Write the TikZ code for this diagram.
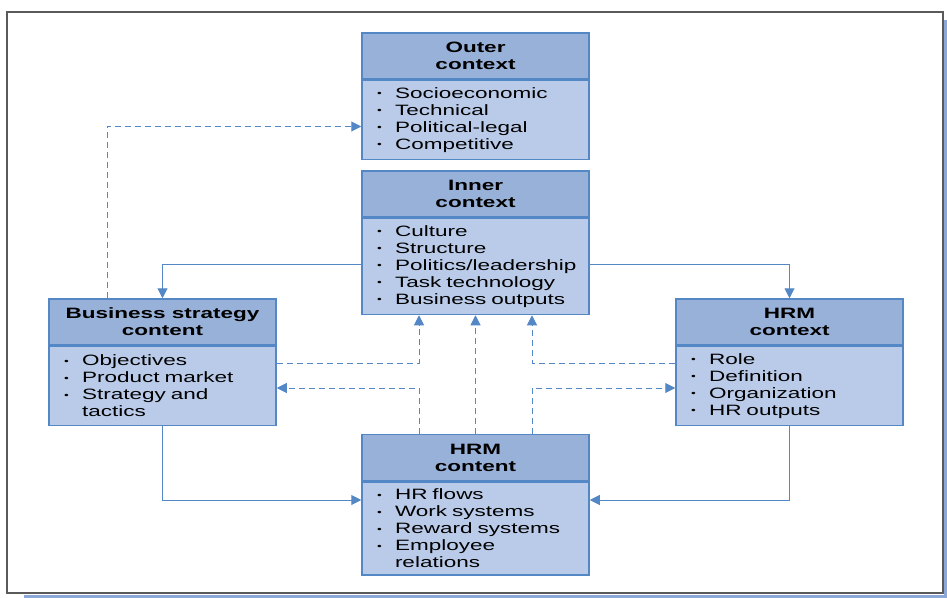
\documentclass[tikz,border=0pt]{standalone}
\usepackage{fontspec}
\setmainfont{Liberation Sans}[FakeStretch=1.5]
\usetikzlibrary{positioning, arrows.meta}
\definecolor{headblue}{RGB}{152,177,217}
\definecolor{bodyblue}{RGB}{186,203,233}
\definecolor{lineblue}{RGB}{84,135,197}
\definecolor{framegray}{RGB}{90,90,90}
\definecolor{shadowblue}{RGB}{140,168,216}
\newcommand{\bul}[1]{\makebox[22pt][l]{\hspace*{4pt}\raisebox{1.5pt}{\scalebox{0.6}{\textbullet}}}#1}
\newcommand{\cnt}{\hspace*{22pt}}
\tikzset{
	head/.style={draw=lineblue, line width=1.5pt, fill=headblue, rectangle, minimum width=227pt, minimum height=46pt, inner sep=0pt, align=center, font=\fontsize{15}{17}\selectfont\bfseries},
	body/.style={draw=lineblue, line width=1.5pt, fill=bodyblue, rectangle, minimum width=227pt, text width=205pt, inner xsep=11pt, inner ysep=0pt, align=left, font=\fontsize{15}{17}\selectfont},
	link/.style={draw=lineblue, line width=1pt, -{Triangle[length=10pt, width=10pt]}},
	dlink/.style={link, dash pattern=on 6pt off 4pt},
}

\begin{document}
\begin{tikzpicture}[x=1pt, y=-1pt]
	\useasboundingbox (0,0) rectangle (947,597);
	% frame
	\draw[shadowblue, line width=3pt] (945.5,20) -- (945.5,596) -- (24,596);
	\draw[framegray, line width=1.5pt, fill=white] (7,12) rectangle (943,593);

	\node[head] (outerhead) at (475.5, 56) {Outer\\context};
	\node[body, minimum height=79pt, below=0pt of outerhead] (outerbody) {\bul{Socioeconomic}\\\bul{Technical}\\\bul{Political-legal}\\\bul{Competitive}};

	\node[head] (innerhead) at (475.5, 194) {Inner\\context};
	\node[body, minimum height=96pt, below=0pt of innerhead] (innerbody) {\bul{Culture}\\\bul{Structure}\\\bul{Politics/leadership}\\\bul{Task technology}\\\bul{Business outputs}};

	\node[head] (bushead) at (162.5, 322) {Business strategy\\content};
	\node[body, minimum height=79pt, below=0pt of bushead] (busbody) {\bul{Objectives}\\\bul{Product market}\\\bul{Strategy and}\\\cnt tactics};

	\node[head] (ctxhead) at (789.5, 322) {HRM\\context};
	\node[body, minimum height=79pt, below=0pt of ctxhead] (ctxbody) {\bul{Role}\\\bul{Definition}\\\bul{Organization}\\\bul{HR outputs}};

	\node[head] (hrmhead) at (475.5, 457.5) {HRM\\content};
	\node[body, minimum height=93pt, below=0pt of hrmhead] (hrmbody) {\bul{HR flows}\\\bul{Work systems}\\\bul{Reward systems}\\\bul{Employee}\\\cnt relations};

	% connectors
	\draw[dlink] ([xshift=-55.5pt]bushead.north) |- ([yshift=-6.5pt]outerbody.west);
	\draw[link] ([yshift=2pt]innerbody.west) -| (bushead.north);
	\draw[link] ([yshift=2pt]innerbody.east) -| (ctxhead.north);
	\draw[dlink] ([yshift=23pt]busbody.east) -| ([xshift=-56.5pt]innerbody.south);
	\draw[dlink] ([xshift=-56.5pt]hrmhead.north) |- ([yshift=-2pt]busbody.east);
	\draw[dlink] (hrmhead.north) -- (innerbody.south);
	\draw[dlink] ([yshift=23pt]ctxbody.west) -| ([xshift=56.5pt]innerbody.south);
	\draw[dlink] ([xshift=56.5pt]hrmhead.north) |- ([yshift=-2pt]ctxbody.west);
	\draw[link] (busbody.south) |- ([yshift=28.5pt]hrmbody.west);
	\draw[link] (ctxbody.south) |- ([yshift=28.5pt]hrmbody.east);
\end{tikzpicture}
\end{document}
